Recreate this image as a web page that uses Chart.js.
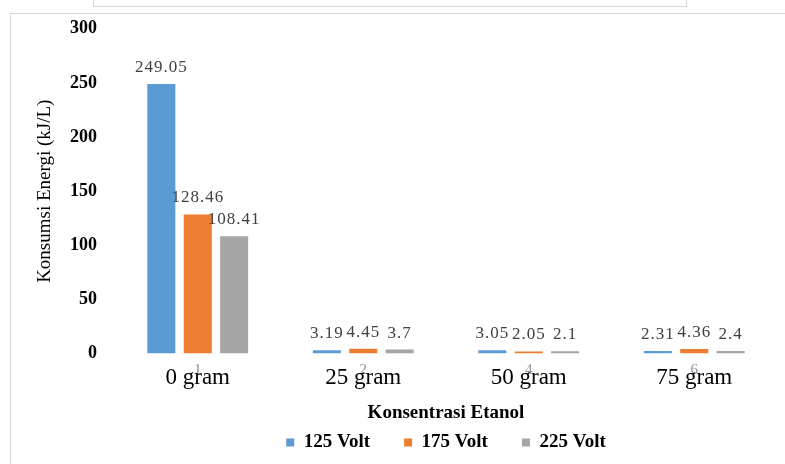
<!DOCTYPE html>
<html>
<head>
<meta charset="UTF-8">
<title>Konsumsi Energi</title>
<script src="https://cdn.jsdelivr.net/npm/chart.js@4.4.1/dist/chart.umd.min.js"></script>
<style>
  html, body { margin: 0; padding: 0; background: #fff; }
  #wrap { position: relative; width: 785px; height: 464px; overflow: hidden; }
  #frame { position: absolute; left: 10px; top: 13px; width: 790px; height: 460px;
           border-left: 1px solid #d6d6d6; border-top: 1px solid #d6d6d6; }
  #topbox { position: absolute; left: 93px; top: -5px; width: 592px; height: 10px;
            border: 1px solid #d6d6d6; }
  canvas { position: absolute; left: 0; top: 0; }
</style>
</head>
<body>
<div id="wrap">
  <div id="frame"></div>
  <div id="topbox"></div>
  <canvas id="chart" width="785" height="464"></canvas>
</div>
<script>
const categories = ['0 gram', '25 gram', '50 gram', '75 gram'];
const subLabels = ['1', '2', '4', '6'];
const volt125 = [249.05, 3.19, 3.05, 2.31];
const volt175 = [128.46, 4.45, 2.05, 4.36];
const volt225 = [108.41, 3.7, 2.1, 2.4];
const yTicks = [0, 50, 100, 150, 200, 250, 300];

const serif = "'Liberation Serif', 'Times New Roman', serif";

// small grey numbers sitting behind the category names
const subNumbers = {
    id: 'subNumbers',
    beforeDraw(chart) {
        const ctx = chart.ctx;
        const x = chart.scales.x;
        ctx.save();
        ctx.font = '15px ' + serif;
        ctx.fillStyle = '#8a94a0';
        ctx.textAlign = 'center';
        ctx.textBaseline = 'top';
        subLabels.forEach((s, i) => {
            ctx.fillText(s, x.getPixelForValue(i), chart.chartArea.bottom + 9);
        });
        ctx.restore();
    }
};

// value labels above each bar
const valueLabels = {
    id: 'valueLabels',
    afterDatasetsDraw(chart) {
        const ctx = chart.ctx;
        ctx.save();
        ctx.font = '17px ' + serif;
        ctx.letterSpacing = '1px';
        ctx.fillStyle = '#404040';
        ctx.textAlign = 'center';
        ctx.textBaseline = 'bottom';
        chart.data.datasets.forEach((ds, i) => {
            chart.getDatasetMeta(i).data.forEach((bar, j) => {
                ctx.fillText(String(ds.data[j]), bar.x, bar.y - 8);
            });
        });
        ctx.restore();
    }
};

new Chart(document.getElementById('chart'), {
    type: 'bar',
    data: {
        labels: categories,
        datasets: [
            { label: '125 Volt', data: volt125, backgroundColor: '#5B9BD5' },
            { label: '175 Volt', data: volt175, backgroundColor: '#ED7D31' },
            { label: '225 Volt', data: volt225, backgroundColor: '#A5A5A5' }
        ]
    },
    options: {
        responsive: false,
        animation: false,
        categoryPercentage: 0.66,
        barPercentage: 0.77,
        layout: { padding: { left: 30, right: 8, top: 13, bottom: 2 } },
        plugins: {
            tooltip: { enabled: false },
            legend: {
                position: 'bottom',
                fullSize: false,
                labels: {
                    color: '#000',
                    boxWidth: 8,
                    boxHeight: 8,
                    padding: 34,
                    font: { family: serif, size: 19, weight: 'bold' }
                }
            }
        },
        scales: {
            x: {
                grid: { display: false, drawTicks: false },
                border: { display: false },
                ticks: { color: '#000', padding: 11, font: { family: serif, size: 23 } },
                title: {
                    display: true,
                    text: 'Konsentrasi Etanol',
                    color: '#000',
                    padding: { top: -2, bottom: -25 },
                    font: { family: serif, size: 19, weight: 'bold' }
                }
            },
            y: {
                min: 0,
                max: 300,
                afterBuildTicks(scale) { scale.ticks = yTicks.map(v => ({ value: v })); },
                grid: { display: false, drawTicks: false },
                border: { display: false },
                ticks: { color: '#000', padding: 18, font: { family: serif, size: 18, weight: 'bold' } },
                title: {
                    display: true,
                    text: 'Konsumsi Energi (kJ/L)',
                    color: '#000',
                    padding: { top: 4, bottom: 4 },
                    font: { family: serif, size: 19 }
                },
                afterFit(scale) { scale.width = 85; }
            }
        }
    },
    plugins: [subNumbers, valueLabels]
});
</script>
</body>
</html>
